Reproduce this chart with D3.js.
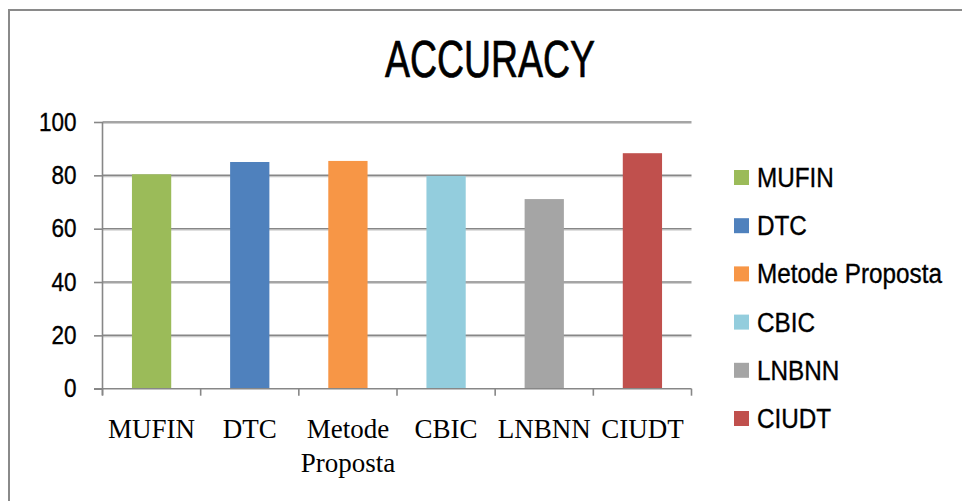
<!DOCTYPE html>
<html>
<head>
<meta charset="utf-8">
<script src="https://cdn.jsdelivr.net/npm/d3@7"></script>
<style>
  html, body { margin: 0; padding: 0; background: #fff; }
  svg { display: block; }
</style>
</head>
<body>
<svg id="chart" width="962" height="501"></svg>
<script>
const categories = ["MUFIN", "DTC", "Metode Proposta", "CBIC", "LNBNN", "CIUDT"];
const values = [80.4, 85.0, 85.4, 79.8, 71.1, 88.3];
const colors = ["#9BBB59", "#4F81BD", "#F79646", "#93CDDD", "#A5A5A5", "#C0504D"];
const yTicks = [0, 20, 40, 60, 80, 100];
const xLabelLines = [["MUFIN"], ["DTC"], ["Metode", "Proposta"], ["CBIC"], ["LNBNN"], ["CIUDT"]];
const titleText = "ACCURACY";

(function () {
const svg = d3.select("#chart");
const sans = "'Liberation Sans', Arial, sans-serif";

// outer border (top & left visible)
svg.append("rect").attr("x", 9).attr("y", 10).attr("width", 1000).attr("height", 1000)
  .attr("fill", "none").attr("stroke", "#8a8a8a").attr("stroke-width", 2);

const pLeft = 102.5, pRight = 691.5, pBottom = 388.7, pTop = 122;
const x = d3.scaleBand().domain(categories).range([pLeft, pRight]).paddingInner(0.6).paddingOuter(0.3);
const xCat = d3.scaleBand().domain(categories).range([pLeft, pRight]).padding(0);
const y = d3.scaleLinear().domain([0, 100]).range([pBottom, pTop]);

// gridlines
const grid = svg.append("g");
yTicks.filter(t => t > 0).forEach(t => {
  grid.append("line").attr("x1", pLeft).attr("x2", pRight).attr("y1", y(t) + 1.5).attr("y2", y(t) + 1.5)
    .attr("stroke", "#d0d0d0").attr("stroke-width", 1);
  grid.append("line").attr("x1", pLeft).attr("x2", pRight).attr("y1", y(t)).attr("y2", y(t))
    .attr("stroke", "#878787").attr("stroke-width", 1.6);
});

// bars
svg.append("g").selectAll("rect").data(values).join("rect")
  .attr("x", (d, i) => x(categories[i]))
  .attr("y", d => y(d))
  .attr("width", x.bandwidth())
  .attr("height", d => pBottom - y(d))
  .attr("fill", (d, i) => colors[i]);

// y axis
const yAxis = d3.axisLeft(y).tickValues(yTicks).tickSize(8.5).tickPadding(17).tickFormat(d3.format("d"));
const gy = svg.append("g").attr("transform", `translate(${pLeft},0)`).call(yAxis);
gy.select(".domain").attr("stroke", "#878787").attr("stroke-width", 1.6).attr("d", `M0,${pTop}V${pBottom + 6.5}`);
gy.selectAll(".tick line").attr("stroke", "#878787").attr("stroke-width", 1.6);
gy.selectAll(".tick text").attr("font-family", sans).attr("font-size", 25).attr("fill", "#000")
  .attr("stroke", "#000").attr("stroke-width", 0.35)
  .attr("x", 0).attr("transform", "translate(-26,0) scale(0.9,1)");

// x axis line and category boundary ticks
const gx = svg.append("g");
gx.append("line").attr("x1", pLeft - 8.5).attr("x2", pRight).attr("y1", pBottom).attr("y2", pBottom)
  .attr("stroke", "#878787").attr("stroke-width", 1.6);
const bounds = categories.map(c => xCat(c)).concat([xCat(categories[categories.length - 1]) + xCat.bandwidth()]);
gx.selectAll("line.tk").data(bounds).join("line").attr("class", "tk")
  .attr("x1", d => d).attr("x2", d => d).attr("y1", pBottom).attr("y2", pBottom + 7)
  .attr("stroke", "#878787").attr("stroke-width", 1.6);

// x labels
const xl = svg.append("g");
xLabelLines.forEach((lines, i) => {
  const cx = xCat(categories[i]) + xCat.bandwidth() / 2;
  const t = xl.append("text").attr("x", cx).attr("y", 438)
    .attr("text-anchor", "middle").attr("font-family", "'Liberation Serif', 'Times New Roman', serif")
    .attr("font-size", 27).attr("fill", "#000");
  lines.forEach((l, j) => {
    t.append("tspan").attr("x", cx).attr("dy", j === 0 ? 0 : 34).text(l);
  });
});

// title (condensed)
svg.append("text").attr("transform", "translate(490,77) scale(0.72,1)").attr("text-anchor", "middle")
  .attr("font-family", sans).attr("font-size", 52).attr("fill", "#000")
  .attr("stroke", "#000").attr("stroke-width", 0.7).text(titleText);

// legend
const lg = svg.append("g");
categories.forEach((c, i) => {
  const cy = 177.5 + i * 48.2;
  lg.append("rect").attr("x", 734).attr("y", cy - 7.5).attr("width", 15).attr("height", 15).attr("fill", colors[i]);
  lg.append("text").attr("transform", `translate(757,${cy + 9.5}) scale(0.9,1)`).attr("font-family", sans)
    .attr("font-size", 27).attr("fill", "#000").attr("stroke", "#000").attr("stroke-width", 0.35).text(c);
});
})();
</script>
</body>
</html>
